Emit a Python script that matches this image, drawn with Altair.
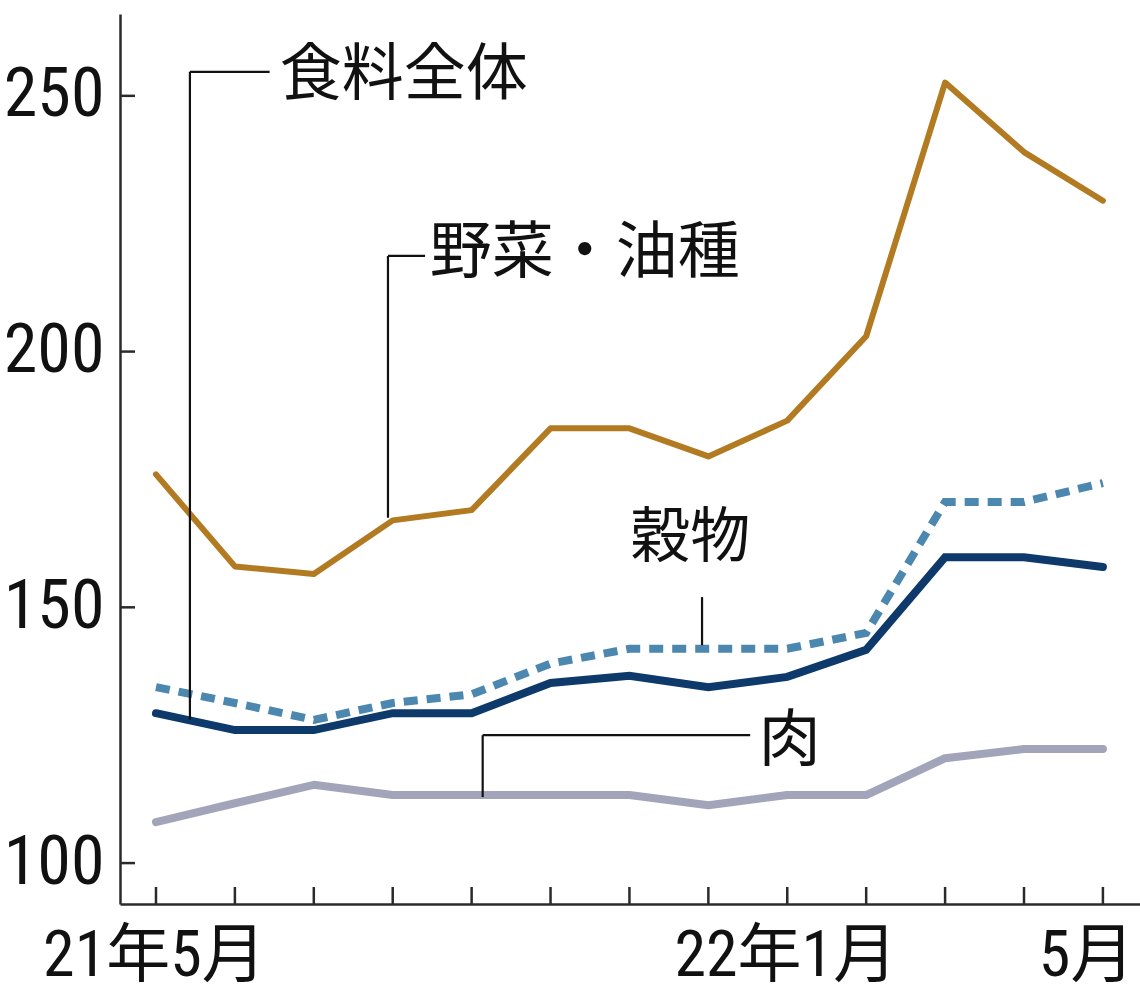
import altair as alt
import pandas as pd

# ---- data ----
month_idx = list(range(13))
tick_labels = ["21年5月", "", "", "", "", "", "", "", "22年1月", "", "", "", "5月"]
food_total = [129.3, 126.0, 126.0, 129.3, 129.3, 135.2, 136.6, 134.4, 136.4, 141.7, 159.8, 159.8, 157.9]
veg_oil = [176.0, 158.0, 156.5, 167.0, 169.0, 185.0, 185.0, 179.5, 186.5, 203.0, 252.6, 239.0, 229.5]
cereals = [134.4, 131.3, 128.0, 131.3, 133.0, 139.0, 141.9, 141.9, 141.9, 145.0, 170.6, 170.6, 174.3]
meat = [108.0, 111.7, 115.3, 113.3, 113.3, 113.3, 113.3, 111.3, 113.3, 113.3, 120.5, 122.3, 122.3]
y_ticks = [100, 150, 200, 250]

# annotation labels and leader lines (data coordinates)
ann_left_text = ["食料全体", "野菜・油種", "肉"]
ann_left_x = [1.57, 3.47, 7.64]
ann_left_y = [254.8, 220.1, 124.6]
ann_center_text = ["穀物"]
ann_center_x = [6.77]
ann_center_y = [164.3]
leader_x = [0.43, 0.43, 2.94, 2.94, 6.92, 4.14, 4.14]
leader_y = [128.0, 254.7, 167.5, 218.7, 142.6, 112.9, 125.0]
leader_x2 = [0.43, 1.44, 2.94, 3.41, 6.92, 4.14, 7.53]
leader_y2 = [254.7, 254.7, 218.7, 218.7, 152.0, 125.0, 125.0]

# ---- layout ----
W, H = 1020, 890
X_DOMAIN = [-0.456, 12.47]
Y_DOMAIN = [92.0, 266.0]
BROWN, NAVY, STEEL, GREY = "#B27B22", "#0D3A6B", "#4B87AF", "#A2A5BA"
AXIS_COLOR = "#2a2a2a"
NARROW = "Liberation Sans Narrow, Roboto Condensed, DejaVu Sans Condensed, Arial Narrow, Noto Sans CJK JP, sans-serif"
CJK = "Noto Sans CJK JP, sans-serif"

xs = alt.Scale(domain=X_DOMAIN, nice=False, zero=False)
ys = alt.Scale(domain=Y_DOMAIN, nice=False, zero=False)

label_js = "[" + ",".join("'" + t + "'" for t in tick_labels) + "]"

x_axis = alt.Axis(
    values=month_idx,
    labelExpr=label_js + "[datum.value]",
    ticks=False,
    grid=False,
    domainColor=AXIS_COLOR,
    domainWidth=2.5,
    labelFont=NARROW,
    labelFontSize=64,
    labelColor="#111",
    labelPadding=20,
    labelLimit=0,
    labelOverlap=False,
    labelFlush=False,
    labelAlign={"condition": {"test": "datum.value == 12", "value": "right"}, "value": "center"},
    labelOffset={"condition": {"test": "datum.value == 12", "value": 31}, "value": -2},
    title=None,
)
y_axis = alt.Axis(
    values=y_ticks,
    ticks=False,
    grid=False,
    domainColor=AXIS_COLOR,
    domainWidth=2.5,
    labelFont=NARROW,
    labelFontSize=68,
    labelColor="#111",
    labelPadding=16,
    labelLimit=0,
    title=None,
)


def X(field):
    return alt.X(field, type="quantitative", scale=xs, axis=x_axis)


def Y(field):
    return alt.Y(field, type="quantitative", scale=ys, axis=y_axis)


def series_df(vals):
    return pd.DataFrame({"idx": month_idx, "value": vals})


meat_layer = alt.Chart(series_df(meat)).mark_line(
    color=GREY, strokeWidth=8, strokeCap="round", strokeJoin="round"
).encode(x=X("idx"), y=Y("value"))

veg_layer = alt.Chart(series_df(veg_oil)).mark_line(
    color=BROWN, strokeWidth=6, strokeCap="round", strokeJoin="round"
).encode(x=X("idx"), y=Y("value"))

food_layer = alt.Chart(series_df(food_total)).mark_line(
    color=NAVY, strokeWidth=8, strokeCap="round", strokeJoin="miter"
).encode(x=X("idx"), y=Y("value"))

cereal_layer = alt.Chart(series_df(cereals)).mark_line(
    color=STEEL, strokeWidth=8, strokeDash=[14, 9], strokeCap="butt", strokeJoin="miter"
).encode(x=X("idx"), y=Y("value"))

ytick_layer = alt.Chart(pd.DataFrame({"value": y_ticks})).mark_rule(
    color=AXIS_COLOR, strokeWidth=2.5
).encode(y=Y("value"), x=alt.value(0), x2=alt.value(15))

xtick_layer = alt.Chart(pd.DataFrame({"idx": month_idx})).mark_rule(
    color=AXIS_COLOR, strokeWidth=2.5
).encode(x=X("idx"), y=alt.value(H - 17), y2=alt.value(H))

leader_layer = alt.Chart(
    pd.DataFrame({"idx": leader_x, "value": leader_y, "x2": leader_x2, "y2": leader_y2})
).mark_rule(color="#111", strokeWidth=2.2).encode(
    x=X("idx"),
    y=Y("value"),
    x2="x2:Q",
    y2="y2:Q",
)

text_left = alt.Chart(
    pd.DataFrame({"idx": ann_left_x, "value": ann_left_y, "t": ann_left_text})
).mark_text(
    align="left", baseline="middle", font=CJK, fontSize=62, color="#111", dy=5
).encode(x=X("idx"), y=Y("value"), text="t:N")

text_center = alt.Chart(
    pd.DataFrame({"idx": ann_center_x, "value": ann_center_y, "t": ann_center_text})
).mark_text(
    align="center", baseline="middle", font=CJK, fontSize=60, color="#111", dy=5
).encode(x=X("idx"), y=Y("value"), text="t:N")

chart = alt.layer(
    meat_layer, veg_layer, food_layer, cereal_layer,
    ytick_layer, xtick_layer, leader_layer, text_left, text_center,
).properties(
    width=W,
    height=H,
    autosize=alt.AutoSizeParams(type="none"),
    padding={"left": 120, "top": 14, "right": 0, "bottom": 91},
    background="white",
).configure_view(stroke=None)

chart.save("out.html", embed_options={"renderer": "svg", "actions": False})
